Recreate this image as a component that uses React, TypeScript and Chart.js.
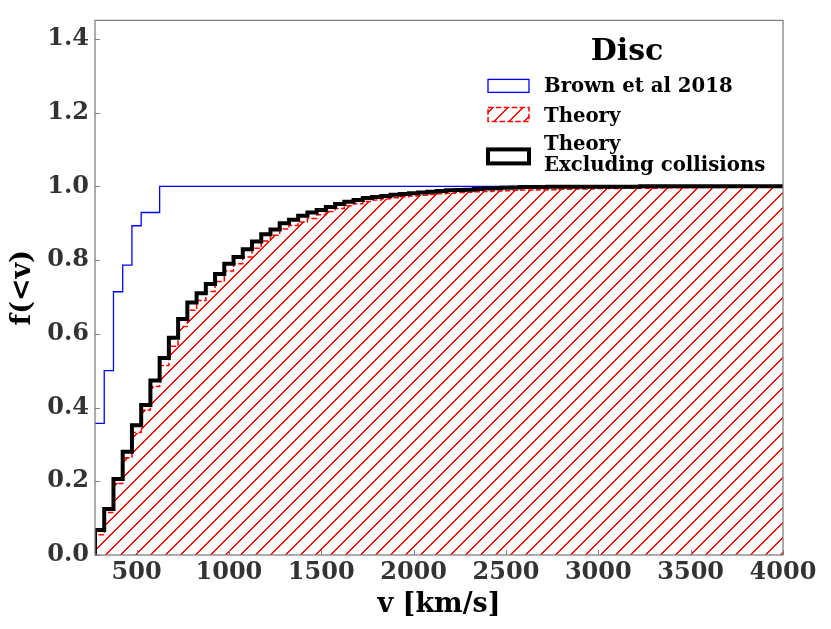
import React, { useEffect, useRef } from "react";
import { Chart, registerables } from "chart.js";

Chart.register(...registerables);

// left edges of the 50 km/s bins [km/s]
const binEdges = [
  275, 325, 375, 425, 475, 525, 575, 625, 675, 725, 775, 825, 875, 925, 975, 1025,
  1075, 1125, 1175, 1225, 1275, 1325, 1375, 1425, 1475, 1525, 1575, 1625, 1675, 1725,
  1775, 1825, 1875, 1925, 1975, 2025, 2075, 2125, 2175, 2225, 2275, 2325, 2375, 2425,
  2475, 2525,
];

// Brown et al 2018 (observed), cumulative
const brownEdges = [275, 325, 375, 425, 475, 525, 625];
const brownCdf = [0.357, 0.5, 0.714, 0.786, 0.893, 0.929, 1.0];

// Theory, cumulative per bin, then the slow tail
const theoryCdf = [
  0.055, 0.115, 0.194, 0.264, 0.332, 0.393, 0.457, 0.514, 0.566, 0.62, 0.664, 0.69,
  0.715, 0.742, 0.77, 0.79, 0.808, 0.832, 0.852, 0.867, 0.884, 0.894, 0.903, 0.913,
  0.923, 0.932, 0.94, 0.947, 0.953, 0.959, 0.963, 0.966, 0.969, 0.972, 0.974, 0.976,
  0.978, 0.98, 0.981, 0.983, 0.984, 0.985, 0.986, 0.987, 0.988, 0.989,
];
const theoryTailEdges = [2575, 2675, 2775, 2875, 2975, 3125, 3325, 3525, 3725, 3925];
const theoryTailCdf = [0.99, 0.991, 0.992, 0.993, 0.994, 0.995, 0.996, 0.997, 0.998, 0.999];

// Theory excluding collisions
const exclCdf = [
  0.068, 0.125, 0.206, 0.28, 0.352, 0.407, 0.473, 0.534, 0.589, 0.64, 0.685, 0.71,
  0.735, 0.762, 0.79, 0.808, 0.829, 0.85, 0.87, 0.883, 0.9, 0.909, 0.92, 0.929,
  0.936, 0.944, 0.952, 0.958, 0.963, 0.968, 0.971, 0.974, 0.977, 0.979, 0.981, 0.983,
  0.985, 0.987, 0.989, 0.99, 0.991, 0.993, 0.994, 0.995, 0.996, 0.997,
];
const exclTailEdges = [2575, 2725, 3225];
const exclTailCdf = [0.998, 0.999, 1.0];

const xTicks = [500, 1000, 1500, 2000, 2500, 3000, 3500, 4000];
const yTicks = [0, 0.2, 0.4, 0.6, 0.8, 1.0, 1.2, 1.4];

const X_MIN = 275;
const X_MAX = 4000;
const Y_MAX = 1.45;
const HIST_END = 4025;
const THEORY_INDEX = 2;

const FONT = '"DejaVu Serif", serif';
const SPINE = "#808080";
const HATCH_STEP = 15;

const stepPoints = (edges: number[], cdf: number[], fromZero: boolean) => {
  const pts: { x: number; y: number }[] = [];
  if (fromZero) pts.push({ x: edges[0], y: 0 });
  edges.forEach((e, i) => pts.push({ x: e, y: cdf[i] }));
  pts.push({ x: HIST_END, y: cdf[cdf.length - 1] });
  return pts;
};

// crisp "/" hatch tile, two pixels wide, pure red
const makeHatch = (ctx: CanvasRenderingContext2D) => {
  const c = document.createElement("canvas");
  c.width = HATCH_STEP;
  c.height = HATCH_STEP;
  const g = c.getContext("2d")!;
  const img = g.createImageData(HATCH_STEP, HATCH_STEP);
  for (let i = 0; i < HATCH_STEP; i++) {
    const j = HATCH_STEP - 1 - i;
    [i, (i + 1) % HATCH_STEP].forEach((col) => {
      const o = (j * HATCH_STEP + col) * 4;
      img.data[o] = 255;
      img.data[o + 1] = 0;
      img.data[o + 2] = 0;
      img.data[o + 3] = 255;
    });
  }
  g.putImageData(img, 0, 0);
  return ctx.createPattern(c, "repeat")!;
};

const hatchPlugin = (hatch: CanvasPattern) => ({
  id: "hatchFill",
  beforeDatasetsDraw(chart: Chart) {
    const { ctx, chartArea: a, scales } = chart;
    const pts = chart.getDatasetMeta(THEORY_INDEX).data as any[];
    if (!pts.length) return;
    const base = scales.y.getPixelForValue(0);
    ctx.save();
    ctx.beginPath();
    ctx.rect(a.left, a.top, a.right - a.left, a.bottom - a.top);
    ctx.clip();
    ctx.beginPath();
    ctx.moveTo(Math.round(pts[0].x), base);
    pts.forEach((p, i) => {
      if (i > 0) ctx.lineTo(Math.round(p.x), Math.round(pts[i - 1].y));
      ctx.lineTo(Math.round(p.x), Math.round(p.y));
    });
    ctx.lineTo(Math.round(pts[pts.length - 1].x), base);
    ctx.closePath();
    ctx.fillStyle = hatch;
    ctx.fill();
    ctx.restore();
  },
});

const frameAndLegend = (hatch: CanvasPattern) => ({
  id: "frameAndLegend",
  afterDraw(chart: Chart) {
    const { ctx, chartArea: a, scales } = chart;
    ctx.save();
    // inward ticks
    ctx.strokeStyle = SPINE;
    ctx.lineWidth = 1;
    ctx.beginPath();
    xTicks.forEach((t) => {
      const px = Math.round(scales.x.getPixelForValue(t)) + 0.5;
      ctx.moveTo(px, a.bottom);
      ctx.lineTo(px, a.bottom - 5);
    });
    yTicks.forEach((t) => {
      const py = Math.round(scales.y.getPixelForValue(t)) + 0.5;
      ctx.moveTo(a.left, py);
      ctx.lineTo(a.left + 5, py);
    });
    ctx.stroke();
    // axes frame
    ctx.lineWidth = 1.3;
    ctx.strokeRect(a.left, a.top, a.right - a.left, a.bottom - a.top);

    // legend
    const hx = Math.round(a.right - 295);
    const hw = 41;
    const tx = a.right - 239;
    ctx.fillStyle = "#000";
    ctx.textAlign = "center";
    ctx.textBaseline = "alphabetic";
    ctx.font = `bold 30px ${FONT}`;
    ctx.fillText("Disc", a.right - 156, a.top + 40);

    ctx.textAlign = "left";
    ctx.font = `bold 19.7px ${FONT}`;

    ctx.strokeStyle = "#0000ff";
    ctx.lineWidth = 1.3;
    ctx.strokeRect(hx, a.top + 59, hw, 13);
    ctx.fillText("Brown et al 2018", tx, a.top + 72);

    ctx.fillStyle = hatch;
    ctx.fillRect(hx, a.top + 87, hw, 14);
    ctx.strokeStyle = "#ff0000";
    ctx.lineWidth = 1.5;
    ctx.setLineDash([5.5, 2.4]);
    ctx.strokeRect(hx, a.top + 87, hw, 14);
    ctx.setLineDash([]);
    ctx.fillStyle = "#000";
    ctx.fillText("Theory", tx, a.top + 102);

    ctx.strokeStyle = "#000";
    ctx.lineWidth = 4;
    ctx.strokeRect(hx, a.top + 129, hw, 14);
    ctx.fillText("Theory", tx, a.top + 130);
    ctx.fillText("Excluding collisions", tx, a.top + 151);
    ctx.restore();
  },
});

const App = () => {
  const canvasRef = useRef<HTMLCanvasElement | null>(null);
  const chartRef = useRef<Chart | null>(null);

  useEffect(() => {
    const ctx = canvasRef.current?.getContext("2d");
    if (!ctx) return;
    if (chartRef.current) chartRef.current.destroy();

    Chart.defaults.font.family = FONT;
    const hatch = makeHatch(ctx);

    chartRef.current = new Chart(ctx, {
      type: "line",
      data: {
        datasets: [
          {
            label: "Theory Excluding collisions",
            data: stepPoints(binEdges.concat(exclTailEdges), exclCdf.concat(exclTailCdf), true),
            borderColor: "#000000",
            borderWidth: 4,
            stepped: "before",
            fill: false,
            pointRadius: 0,
            clip: 0,
          },
          {
            label: "Brown et al 2018",
            data: stepPoints(brownEdges, brownCdf, false),
            borderColor: "#0000ff",
            borderWidth: 1.3,
            stepped: "before",
            fill: false,
            pointRadius: 0,
            clip: 0,
          },
          {
            label: "Theory",
            data: stepPoints(binEdges.concat(theoryTailEdges), theoryCdf.concat(theoryTailCdf), true),
            borderColor: "#ff0000",
            borderWidth: 1.5,
            borderDash: [5.5, 2.4],
            stepped: "before",
            fill: false,
            pointRadius: 0,
            clip: 0,
          },
        ],
      },
      options: {
        responsive: true,
        maintainAspectRatio: false,
        animation: false,
        devicePixelRatio: 1,
        layout: { padding: { top: 8, right: 48, left: 0, bottom: 0 } },
        plugins: { legend: { display: false }, tooltip: { enabled: false } },
        scales: {
          x: {
            type: "linear",
            min: X_MIN,
            max: X_MAX,
            grid: { display: false, drawTicks: false },
            border: { display: false },
            afterBuildTicks: (s: any) => {
              s.ticks = xTicks.map((v) => ({ value: v }));
            },
            afterFit: (s: any) => {
              s.height = 74;
            },
            ticks: {
              color: "#333333",
              font: { size: 24, weight: "bold" },
              padding: 3,
              maxRotation: 0,
              autoSkip: false,
              callback: (v: any) => String(v),
            },
            title: {
              display: true,
              text: "v [km/s]",
              color: "#000",
              font: { size: 27, weight: "bold" },
              padding: { top: 0, bottom: 8 },
            },
          },
          y: {
            type: "linear",
            min: 0,
            max: Y_MAX,
            grid: { display: false, drawTicks: false },
            border: { display: false },
            afterBuildTicks: (s: any) => {
              s.ticks = yTicks.map((v) => ({ value: v }));
            },
            afterFit: (s: any) => {
              s.width = 95;
            },
            ticks: {
              color: "#333333",
              font: { size: 24, weight: "bold" },
              padding: 6,
              callback: (v: any) => Number(v).toFixed(1),
            },
            title: {
              display: true,
              text: "f(<v)",
              color: "#000",
              font: { size: 27, weight: "bold" },
              padding: { top: 7, bottom: 0 },
            },
          },
        },
      },
      plugins: [hatchPlugin(hatch), frameAndLegend(hatch)],
    });

    return () => {
      if (chartRef.current) {
        chartRef.current.destroy();
        chartRef.current = null;
      }
    };
  }, []);

  return (
    <div style={{ position: "fixed", left: 0, top: 0, width: 831, height: 629, background: "#fff" }}>
      <canvas ref={canvasRef} style={{ width: "100%", height: "100%" }}></canvas>
    </div>
  );
};

export default App;
